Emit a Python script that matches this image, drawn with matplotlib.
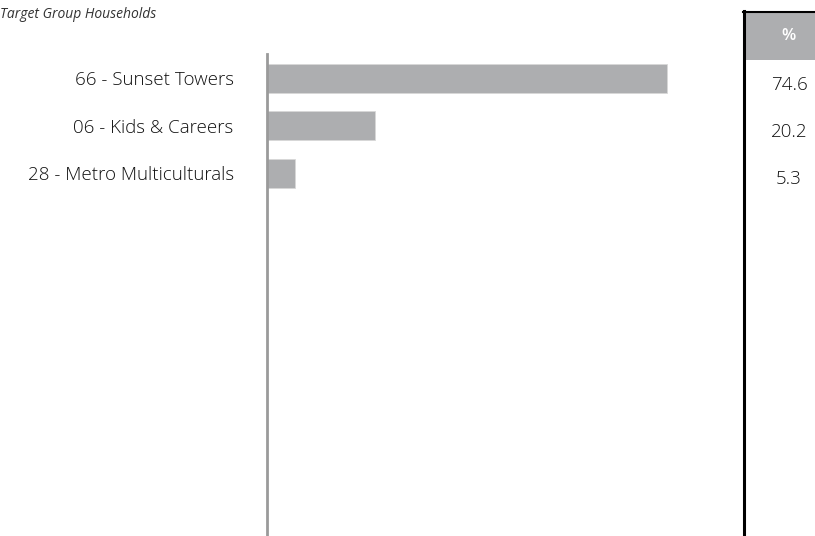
import matplotlib
matplotlib.use("Agg")
import matplotlib.pyplot as plt
from matplotlib.patches import Rectangle
from matplotlib.lines import Line2D

categories = ["66 - Sunset Towers", "06 - Kids & Careers", "28 - Metro Multiculturals"]
values = [74.6, 20.2, 5.3]
value_labels = ["74.6", "20.2", "5.3"]
title = "Target Group Households"
table_header = "%"

W, H = 815, 536
DPI = 100
plt.rcParams['font.family'] = ['Open Sans', 'DejaVu Sans']
fig = plt.figure(figsize=(W / DPI, H / DPI), dpi=DPI)

def fx(px):
    return px / W

def fy(py):
    return 1 - py / H

bar_color = "#adaeb0"
text_color = "#111111"
lbl_weight = "light"

# bar axes
ax_left, ax_right, ax_top, ax_bot = 267, 700, 54, 536
ax = fig.add_axes([fx(ax_left), fy(ax_bot), fx(ax_right - ax_left), (ax_bot - ax_top) / H])
spacing = 47.5
n_units = (ax_bot - ax_top) / spacing
top_off = 24.5 / spacing
ax.set_ylim(-top_off + n_units, -top_off)
ax.set_xlim(0, (ax_right - ax_left) / 5.36)
ypos = list(range(len(categories)))
ax.barh(ypos, values, height=29 / spacing, color=bar_color, edgecolor="#d8d8d8", linewidth=0.6)
for s in ["top", "right", "bottom"]:
    ax.spines[s].set_visible(False)
ax.spines["left"].set_color("#9a9a9a")
ax.spines["left"].set_linewidth(2)
ax.set_xticks([])
ax.set_yticks(ypos)
ax.set_yticklabels(categories, fontsize=13.5, color=text_color, fontweight=lbl_weight)
ax.tick_params(axis="y", length=0, pad=24)

# title
fig.text(fx(0), fy(14), title, fontsize=10, style="italic", color="#333333", va="center", ha="left")

# table (pixel coordinates of the table column)
tab_left = 742
tax = fig.add_axes([fx(tab_left), 0, fx(W - tab_left), 1])
tax.set_xlim(0, W - tab_left)
tax.set_ylim(H, 0)
tax.axis("off")
tax.add_patch(Rectangle((1, 12), W - tab_left, 48, color="#adaeb0", lw=0))
tax.text(46, 36, table_header, color="white", fontsize=12, fontweight="semibold",
         ha="center", va="center")
row0, row_step = 84.5, 47.5
for i, lab in enumerate(value_labels):
    tax.text(47, row0 + i * row_step, lab, fontsize=13.5, color=text_color, ha="center", va="center",
             fontweight=lbl_weight)

fig.add_artist(Line2D([fx(743.5), fx(743.5)], [fy(10.5), 0], color="black", lw=2.2, transform=fig.transFigure))
fig.add_artist(Line2D([fx(742.5), 1], [fy(11.5), fy(11.5)], color="black", lw=1.5, transform=fig.transFigure))

fig.savefig("out.png", dpi=DPI)
